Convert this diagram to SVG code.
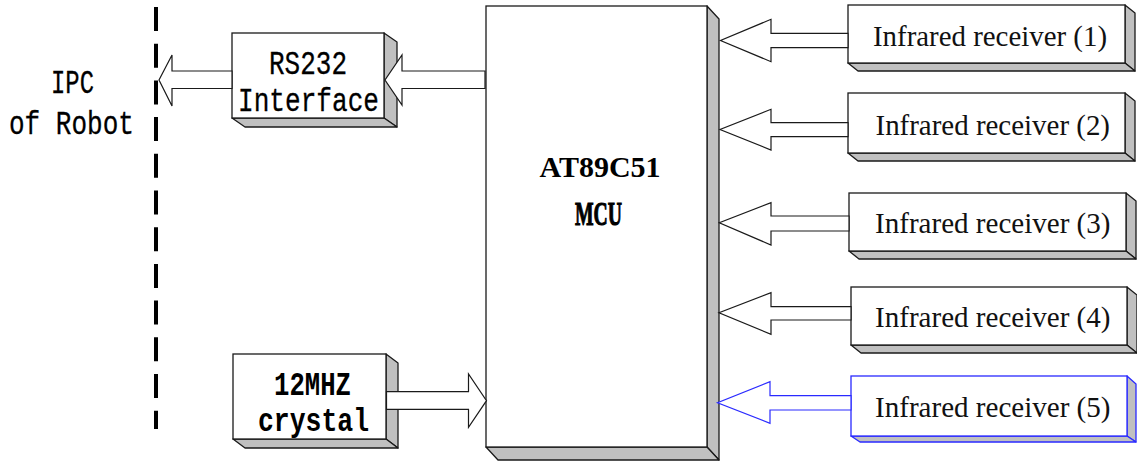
<svg xmlns="http://www.w3.org/2000/svg" width="1137" height="463" viewBox="0 0 1137 463">
<style>
.face{fill:#fff;stroke:#1a1a1a;stroke-width:1.3}
.side{fill:#c0c0c0;stroke:#1a1a1a;stroke-width:1.3;stroke-linejoin:round}
.blue .face,.blue .side{stroke:#2a2aff}
.arr{fill:#fff;stroke:#1a1a1a;stroke-width:1.2;stroke-linejoin:miter}
.arr.b{stroke:#2a2aff}
.mono{font-family:"Liberation Mono","DejaVu Sans Mono",monospace;font-size:33px;fill:#000;stroke:#000;stroke-width:0.3}
.monob{font-family:"Liberation Mono","DejaVu Sans Mono",monospace;font-size:33px;fill:#000;font-weight:bold}
.rx{font-family:"Liberation Serif","Times New Roman",serif;font-size:29px;fill:#111}
.mcu{font-family:"Liberation Serif","Times New Roman",serif;font-weight:bold;fill:#000}
</style>
<rect width="1137" height="463" fill="#fff"/>

<g id="boundary">
<line x1="156" y1="7" x2="156" y2="429" stroke="#000" stroke-width="4" stroke-dasharray="24 12.7"/>
</g>

<g id="ipc">
<text class="mono" x="51" y="93" textLength="43" lengthAdjust="spacingAndGlyphs">IPC</text>
<text class="mono" x="9" y="134" textLength="125" lengthAdjust="spacingAndGlyphs">of Robot</text>
</g>

<g id="mcu">
<polygon class="side" points="707,6 719,19 719,460 707,447"/>
<polygon class="side" points="486,447 707,447 719,460 498,460"/>
<rect class="face" x="486" y="6" width="221" height="441"/>
<text class="mcu" x="600" y="177" font-size="30" text-anchor="middle">AT89C51</text>
<text class="mcu" x="575" y="225" font-size="33" textLength="47" lengthAdjust="spacingAndGlyphs" stroke="#000" stroke-width="1.1">MCU</text>
</g>

<g id="rs232">
<polygon class="side" points="384,33 397,42 397,127 384,118"/>
<polygon class="side" points="232,118 384,118 397,127 245,127"/>
<rect class="face" x="232" y="33" width="152" height="85"/>
<text class="mono" x="269" y="74" textLength="78" lengthAdjust="spacingAndGlyphs">RS232</text>
<text class="mono" x="238" y="111" textLength="141" lengthAdjust="spacingAndGlyphs">Interface</text>
</g>

<g id="crystal">
<polygon class="side" points="386,354 398,363 398,448 386,439"/>
<polygon class="side" points="233,439 386,439 398,448 245,448"/>
<rect class="face" x="233" y="354" width="153" height="85"/>
<text class="monob" x="274" y="395" textLength="77" lengthAdjust="spacingAndGlyphs">12MHZ</text>
<text class="monob" x="258" y="431" textLength="111" lengthAdjust="spacingAndGlyphs">crystal</text>
</g>

<g id="receiver1">
<polygon class="side" points="1125,5 1135,13 1135,71 1125,63"/>
<polygon class="side" points="848,63 1125,63 1135,71 858,71"/>
<rect class="face" x="848" y="5" width="277" height="58"/>
<text class="rx" x="873" y="46" textLength="234" lengthAdjust="spacingAndGlyphs">Infrared receiver (1)</text>
</g>

<g id="receiver2">
<polygon class="side" points="1125,93 1135,101 1135,161 1125,153"/>
<polygon class="side" points="848,153 1125,153 1135,161 858,161"/>
<rect class="face" x="848" y="93" width="277" height="60"/>
<text class="rx" x="875.5" y="135" textLength="234.5" lengthAdjust="spacingAndGlyphs">Infrared receiver (2)</text>
</g>

<g id="receiver3">
<polygon class="side" points="1126,193 1136,201 1136,259 1126,251"/>
<polygon class="side" points="849,251 1126,251 1136,259 859,259"/>
<rect class="face" x="849" y="193" width="277" height="58"/>
<text class="rx" x="875" y="233" textLength="235.5" lengthAdjust="spacingAndGlyphs">Infrared receiver (3)</text>
</g>

<g id="receiver4">
<polygon class="side" points="1127,287 1137,295 1137,353 1127,345"/>
<polygon class="side" points="851,345 1127,345 1137,353 861,353"/>
<rect class="face" x="851" y="287" width="276" height="58"/>
<text class="rx" x="875" y="326.5" textLength="235.5" lengthAdjust="spacingAndGlyphs">Infrared receiver (4)</text>
</g>

<g id="receiver5" class="blue">
<polygon class="side" points="1127,376 1136,384 1136,442 1127,436"/>
<polygon class="side" points="851,436 1127,436 1136,442 860,442"/>
<rect class="face" x="851" y="376" width="276" height="60"/>
<text class="rx" x="875" y="416.5" textLength="235.5" lengthAdjust="spacingAndGlyphs">Infrared receiver (5)</text>
</g>

<g id="connectors">
<polygon class="arr" points="485,71 402,71 402,55 385,80 402,105 402,88.5 485,88.5"/>
<polygon class="arr" points="232,71 172,71 172,55 159,80 172,106 172,88.5 232,88.5"/>
<polygon class="arr" points="386.5,391.7 468.5,391.7 468.5,374 486.5,400.7 468.5,427.3 468.5,409.3 386.5,409.3"/>
<polygon class="arr" points="848,33.3 771,33.3 771,19.3 720.5,40.5 771,61.7 771,47.7 848,47.7"/>
<polygon class="arr" points="848,122.7 771,122.7 771,109.3 720,129.5 771,150 771,136.7 848,136.7"/>
<polygon class="arr" points="849,216 771,216 771,202.7 719.3,222.7 771,245 771,231 849,231"/>
<polygon class="arr" points="851,306.7 771,306.7 771,292.7 719,312.7 771,334.3 771,320 851,320"/>
<polygon class="arr b" points="851,395.7 770,395.7 770,381.7 717.5,402.7 770,423.3 770,410 851,410"/>
</g>
</svg>
